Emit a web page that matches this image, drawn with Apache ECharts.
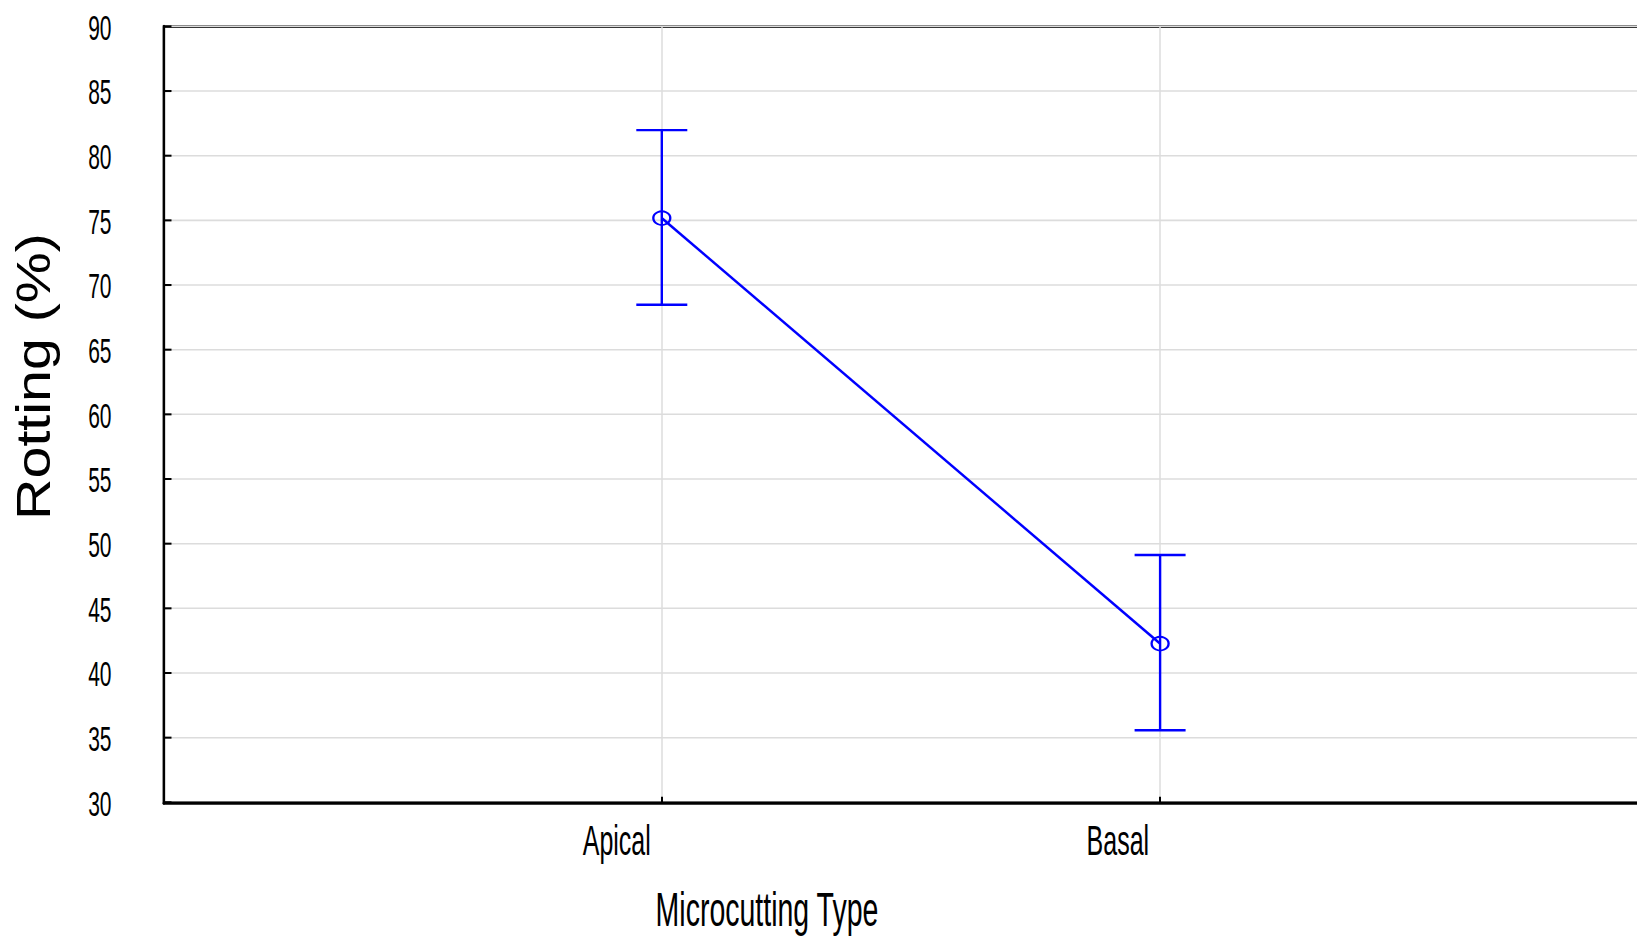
<!DOCTYPE html>
<html>
<head>
<meta charset="utf-8">
<script src="https://cdn.jsdelivr.net/npm/echarts@6/dist/echarts.min.js"></script>
<style>
  html, body { margin: 0; padding: 0; background: #fff; overflow: hidden; }
  #wrap { width: 1637px; height: 941px; overflow: hidden; position: relative; }
  #chart { width: 1690px; height: 553px; transform: scaleY(1.70163); transform-origin: 0 0; }
</style>
</head>
<body>
<div id="wrap"><div id="chart"></div></div>
<script>
// ---- data ----
const categories = ['Apical', 'Basal'];
const positions = [1, 2];
const means = [75.2, 42.3];
const upper = [82.0, 49.15];
const lower = [68.5, 35.6];
const yTitle = 'Rotting (%)';
const xTitle = 'Microcutting Type';

// ---- layout (chart is stretched vertically by K via CSS; right edge runs past the visible area) ----
const K = 941 / 553;
const FONT = "'Liberation Sans', Arial, sans-serif";
const BLUE = '#0000ff';
const GRID = '#dcdcdc';

const chart = echarts.init(document.getElementById('chart'), null, { renderer: 'svg' });

const lineData = positions.map((p, i) => [p, means[i]]);
const errData = positions.map((p, i) => [p, lower[i], upper[i]]);

const option = {
  animation: false,
  backgroundColor: '#ffffff',
  grid: {
    left: 163.5, right: 1690 - 1658.4, top: 26.7 / K, bottom: 553 - 802.7 / K,
    show: true, borderColor: '#000', borderWidth: 1.6, backgroundColor: 'transparent'
  },
  xAxis: {
    type: 'value', min: 0, max: 3, interval: 1,
    axisLine: { show: true, lineStyle: { color: '#000', width: 3 / K } },
    axisTick: { show: true, inside: true, length: 3.5, lineStyle: { color: '#000', width: 2 } },
    splitLine: { show: true, lineStyle: { color: GRID, width: 1.5 } },
    axisLabel: {
      show: true, margin: 9.5, align: 'right', padding: [0, 11, 0, 0],
      fontFamily: FONT, fontSize: 25, color: '#000',
      formatter: function (v) {
        const idx = positions.indexOf(v);
        return idx >= 0 ? categories[idx] : '';
      }
    }
  },
  yAxis: {
    type: 'value', min: 30, max: 90, interval: 5,
    axisLine: { show: true, lineStyle: { color: '#000', width: 2.3 } },
    axisTick: { show: true, inside: true, length: 8, lineStyle: { color: '#000', width: 1.2 } },
    splitLine: { show: true, lineStyle: { color: GRID, width: 0.9 } },
    axisLabel: { margin: 52, fontFamily: FONT, fontSize: 21, color: '#000' }
  },
  graphic: [
    {
      type: 'text', x: 33, y: 376.5 / K, rotation: Math.PI / 2, scaleX: 0.71,
      style: { text: yTitle, font: '47.5px ' + FONT, fill: '#000',
               align: 'center', verticalAlign: 'middle', textAlign: 'center', textVerticalAlign: 'middle' }
    },
    {
      type: 'text', x: 767, y: 534,
      style: { text: xTitle, font: '28.5px ' + FONT, fill: '#000',
               align: 'center', verticalAlign: 'middle', textAlign: 'center', textVerticalAlign: 'middle' }
    }
  ],
  series: [
    {
      type: 'custom',
      data: errData,
      z: 3,
      renderItem: function (params, api) {
        const x = api.value(0);
        const lo = api.coord([x, api.value(1)]);
        const hi = api.coord([x, api.value(2)]);
        const hw = 25.5;
        const cap = 2.4 / K;
        return {
          type: 'group',
          children: [
            { type: 'line', shape: { x1: lo[0], y1: lo[1], x2: hi[0], y2: hi[1] },
              style: { stroke: BLUE, lineWidth: 2.4 } },
            { type: 'line', shape: { x1: hi[0] - hw, y1: hi[1], x2: hi[0] + hw, y2: hi[1] },
              style: { stroke: BLUE, lineWidth: cap } },
            { type: 'line', shape: { x1: lo[0] - hw, y1: lo[1], x2: lo[0] + hw, y2: lo[1] },
              style: { stroke: BLUE, lineWidth: cap } }
          ]
        };
      }
    },
    {
      type: 'line',
      data: lineData,
      z: 4,
      symbol: 'circle',
      symbolSize: [17, 8],
      lineStyle: { color: BLUE, width: 1.7 },
      itemStyle: { color: 'rgba(0,0,0,0)', borderColor: BLUE, borderWidth: 1.6 }
    }
  ]
};

chart.setOption(option);
</script>
</body>
</html>
